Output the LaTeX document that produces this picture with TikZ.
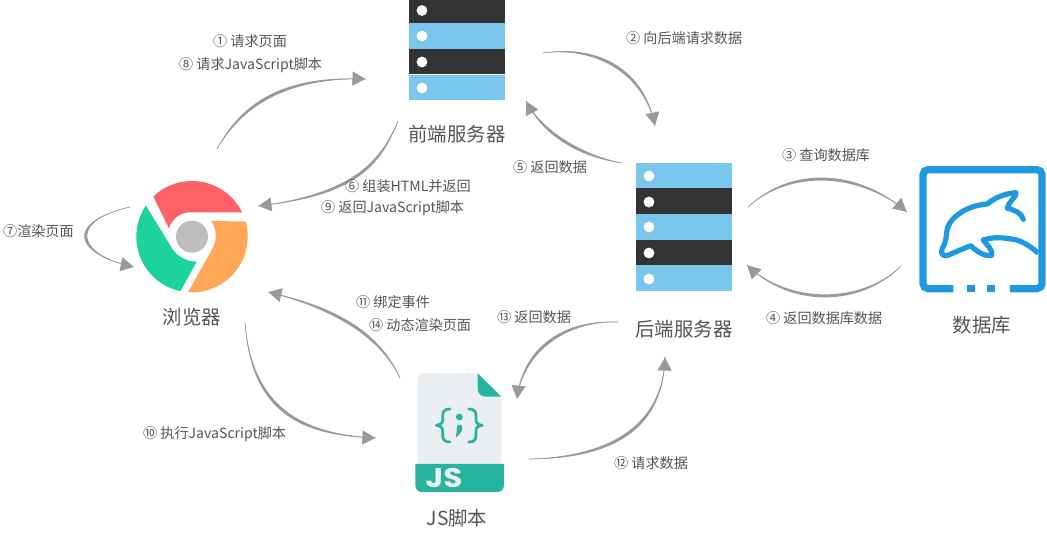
\documentclass[tikz,border=0pt]{standalone}
\usepackage{fontspec}
\setmainfont{Noto Sans CJK SC}
\newfontfamily\jsfont{Poppins}
\usetikzlibrary{arrows.meta,calc,decorations.markings}
\definecolor{srvblue}{HTML}{7AC5EC}
\definecolor{srvdark}{HTML}{333333}
\definecolor{conngray}{HTML}{999999}
\definecolor{txtgray}{HTML}{555555}
\definecolor{chred}{HTML}{FF5F67}
\definecolor{chgreen}{HTML}{1BD39B}
\definecolor{chorange}{HTML}{FFA657}
\definecolor{chgray}{HTML}{BDBDBD}
\definecolor{dbblue}{HTML}{1E98DF}
\definecolor{jspage}{HTML}{EBEEF0}
\definecolor{jsteal}{HTML}{26B3A0}
\tikzset{
  connline/.style={draw=conngray,line width=0.7pt,postaction={decorate},
    decoration={markings,mark=at position 0.997 with {\arrow[conngray]{Triangle[length=13pt,width=14pt]}}}},
  connfill/.style={fill=conngray},
  lab/.style={anchor=west,inner sep=0pt,yshift=-0.8pt,text=txtgray,font=\fontsize{14.1pt}{16pt}\selectfont},
  title/.style={inner sep=0pt,text=txtgray,font=\fontsize{19.4pt}{21pt}\selectfont},
  blueband/.style={fill=srvblue},
  darkband/.style={fill=srvdark},
  dot/.style={fill=white},
  dbline/.style={draw=dbblue,line width=7.2pt,line cap=butt},
  dolph/.style={draw=dbblue,line width=5.2pt,line cap=round,line join=round},
  brace/.style={draw=jsteal,line width=2.7pt,line cap=round,line join=round},
}
\newcommand\conn[4]{%
  \fill[connfill] (#1) .. controls ($(#2)+($(#1)!2pt!90:(#4)$)-(#1)$) and ($(#3)+($(#1)!2pt!90:(#4)$)-(#1)$) .. (#4)
     .. controls ($(#3)+($(#1)!-2pt!90:(#4)$)-(#1)$) and ($(#2)+($(#1)!-2pt!90:(#4)$)-(#1)$) .. (#1) -- cycle;
  \draw[connline] (#1) .. controls (#2) and (#3) .. (#4);}
\begin{document}
\begin{tikzpicture}[x=1pt,y=-1pt]
\path[use as bounding box,fill=white] (0,0) rectangle (1047,534);

% front-end server
\begin{scope}[shift={(409,0)}]
  \fill[darkband] (0,0) rectangle (96,23);
  \fill[blueband] (0,23.5) rectangle (96,49);
  \fill[darkband] (0,49.5) rectangle (96,74.5);
  \fill[blueband] (0,75) rectangle (96,100.5);
  \foreach \y in {10.5,36,62,88} \fill[dot] (13,\y) circle[radius=5.4];
\end{scope}
\node[title] (front) at (457,134) {前端服务器};

% back-end server
\begin{scope}[shift={(636,163)}]
  \fill[blueband] (0,0) rectangle (96,25.5);
  \fill[darkband] (0,25.5) rectangle (96,51);
  \fill[blueband] (0,51) rectangle (96,77);
  \fill[darkband] (0,77) rectangle (96,102.5);
  \fill[blueband] (0,102.5) rectangle (96,128);
  \foreach \y in {13,39,64,90,116} \fill[dot] (13,\y) circle[radius=5.4];
\end{scope}
\node[title] (back) at (684,329) {后端服务器};

% browser
\begin{scope}[shift={(120,160)},x=0.3333pt,y=-0.3333pt]
  \fill[chred] ($(216,230)+(134:167pt*0.3333)$) arc[start angle=134,end angle=26,radius=55.7pt]
     -- (205,157) .. controls (175,160) and (155,180) .. (147,205) -- cycle;
  \fill[chgreen] ($(216,230)+(146:167pt*0.3333)$) arc[start angle=146,end angle=258,radius=55.7pt]
     -- (230,305) .. controls (195,305) and (165,285) .. (150,255) -- cycle;
  \fill[chorange] ($(216,230)+(266:167pt*0.3333)$) arc[start angle=266,end angle=375.7,radius=55.7pt]
     -- (273,183) .. controls (290,205) and (292,240) .. (278,265) -- cycle;
  \fill[chgray] (216,230) circle[radius=16pt];
\end{scope}
\node[title] (browser) at (192,317) {浏览器};

% database
\begin{scope}[shift={(900,150)},x=0.3333pt,y=-0.3333pt]
  \draw[dbline,rounded corners=5pt] (160,416) -- (69,416) -- (69,59) -- (426,59) -- (426,416) -- (330,416);
  \fill[dbblue] (202,405) rectangle (224,427);
  \fill[dbblue] (260,405) rectangle (284,427);
\end{scope}
\begin{scope}[shift={(930,180)},x=0.3333pt,y=-0.3333pt]
  \draw[dolph,line cap=butt] plot[smooth,tension=.55] coordinates {(325,220) (300,200) (260,180) (200,173) (160,180)};
  \draw[dolph] (160,180) .. controls (170,195) and (190,210) .. (185,226) .. controls (165,230) and (140,215) .. (122,197)
     -- (62,222) .. controls (40,235) and (28,222) .. (37,205) .. controls (50,185) and (48,165) .. (52,145)
     .. controls (65,105) and (120,75) .. (172,72) .. controls (190,55) and (225,40) .. (258,38)
     .. controls (262,48) and (235,65) .. (232,85) .. controls (255,90) and (275,100) .. (280,118);
\end{scope}
\node[title] (db) at (982,325) {数据库};

% script file
\begin{scope}[shift={(400,360)},x=0.3333pt,y=-0.3333pt]
  \fill[jspage] (233,40) -- (70,40) .. controls (58,40) and (52,48) .. (52,58) -- (52,315) -- (304,315) -- (304,110) -- cycle;
  \fill[jsteal] (233,40) -- (304,110) -- (258,110) .. controls (243,110) and (233,100) .. (233,85) -- cycle;
  \fill[jsteal] (46,312) -- (312,312) -- (312,375) .. controls (312,388) and (303,396) .. (292,396) -- (66,396) .. controls (55,396) and (46,388) .. (46,375) -- cycle;
\end{scope}
\begin{scope}[shift={(425,395)},x=0.3333pt,y=-0.3333pt]
  \draw[brace] (75,42) .. controls (58,42) and (53,50) .. (53,62) -- (53,75) .. controls (53,85) and (45,90) .. (34,91)
     .. controls (45,92) and (53,97) .. (53,107) -- (53,122) .. controls (53,134) and (58,141) .. (75,141);
  \draw[brace] (131,42) .. controls (148,42) and (153,50) .. (153,62) -- (153,75) .. controls (153,85) and (161,90) .. (172,91)
     .. controls (161,92) and (153,97) .. (153,107) -- (153,122) .. controls (153,134) and (148,141) .. (131,141);
  \fill[jsteal] (103,66) circle[radius=3.4pt];
  \fill[jsteal] (96,95) .. controls (100,86) and (112,87) .. (112,98) .. controls (112,108) and (104,120) .. (93,127) -- (96,95) -- cycle;
\end{scope}
\node[inner sep=0pt,text=jspage,font=\jsfont\bfseries\fontsize{27pt}{29pt}\selectfont,xscale=1.15] (jsmark) at (444,478) {JS};
\node[title] (js) at (457,518) {JS脚本};

% connector ends
\coordinate (a1) at (217,149);  \coordinate (b1) at (366,79);
\coordinate (a2) at (543,53);   \coordinate (b2) at (655,126);
\coordinate (a3) at (748,207);  \coordinate (b3) at (907,212);
\coordinate (a4) at (901,266);  \coordinate (b4) at (747,265);
\coordinate (a5) at (622,163);  \coordinate (b5) at (526,101);
\coordinate (a6) at (398,121);  \coordinate (b6) at (258,206);
\coordinate (a7) at (130,207);  \coordinate (b7) at (134,267);
\coordinate (a10) at (245,323); \coordinate (b10) at (376,438);
\coordinate (a11) at (400,378); \coordinate (b11) at (268,292);
\coordinate (a12) at (529,459); \coordinate (b12) at (665,357);
\coordinate (a13) at (618,322); \coordinate (b13) at (517,399);

\conn{a1}{240,108}{280,76}{b1}
\conn{a2}{600,45}{645,74}{b2}
\conn{a3}{790,168}{858,170}{b3}
\conn{a4}{862,305}{790,307}{b4}
\conn{a5}{585,157}{544,136}{b5}
\conn{a6}{380,165}{353,195}{b6}
\conn{a7}{65,222}{76,255}{b7}
\conn{a10}{252,410}{301,435}{b10}
\conn{a11}{380,335}{336,308}{b11}
\conn{a12}{600,458}{663,435}{b12}
\conn{a13}{560,320}{522,354}{b13}

% labels
\node[lab] (l1) at (213,40) {① 请求页面};
\node[lab] (l8) at (179,64) {⑧ 请求JavaScript脚本};
\node[lab] (l2) at (626,37) {② 向后端请求数据};
\node[lab] (l5) at (513,166) {⑤ 返回数据};
\node[lab] (l6) at (345,185) {⑥ 组装HTML并返回};
\node[lab] (l9) at (321,207) {⑨ 返回JavaScript脚本};
\node[lab] (l3) at (782,154) {③ 查询数据库};
\node[lab] (l4) at (766,317) {④ 返回数据库数据};
\node[lab] (l7) at (3,230) {⑦渲染页面};
\node[lab] (l11) at (356,301) {⑪ 绑定事件};
\node[lab] (l14) at (369,324) {⑭ 动态渲染页面};
\node[lab] (l13) at (497,316) {⑬ 返回数据};
\node[lab] (l10) at (143,433) {⑩ 执行JavaScript脚本};
\node[lab] (l12) at (614,462) {⑫ 请求数据};
\end{tikzpicture}
\end{document}
